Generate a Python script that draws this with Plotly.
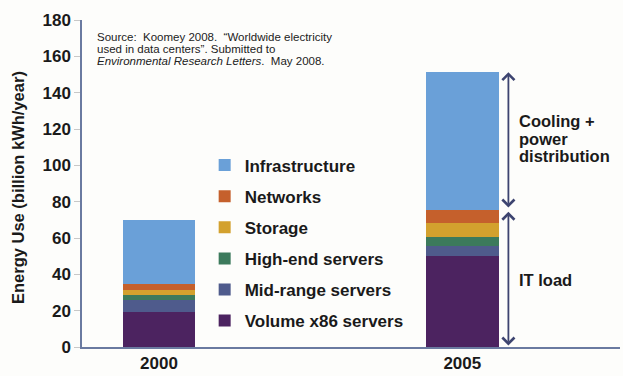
import plotly.graph_objects as go

years = ["2000", "2005"]
series_names = ["Volume x86 servers", "Mid-range servers", "High-end servers",
                "Storage", "Networks", "Infrastructure"]
volume = [19.3, 49.9]
midrange = [6.8, 5.7]
highend = [2.7, 4.9]
storage = [2.8, 8.0]
networks = [2.9, 6.7]
infrastructure = [35.2, 76.1]
colors = ["#4c2360", "#4f5b8c", "#3c7a5c", "#d3a12e", "#c5602c", "#6aa0d8"]
y_ticks = [0, 20, 40, 60, 80, 100, 120, 140, 160, 180]
source_lines = ["Source:  Koomey 2008.  \u201cWorldwide electricity",
                "used in data centers\u201d. Submitted to",
                "<i>Environmental Research Letters</i>.  May 2008."]
side_labels = ["Cooling +", "power", "distribution", "IT load"]

values = [volume, midrange, highend, storage, networks, infrastructure]
FONT = "Liberation Sans, Arial, sans-serif"

fig = go.Figure()
for i, (name, vals, col) in enumerate(zip(series_names, values, colors)):
    fig.add_trace(go.Bar(x=[0, 1], y=vals, name=name, marker_color=col,
                         marker_line_width=0, width=0.24, legendgroup=name,
                         legendrank=len(series_names) - i))

it_load = sum(v[1] for v in values[:5])
total = it_load + infrastructure[1]
ax_x = 1.152

fig.update_layout(
    barmode="stack",
    width=623, height=376,
    margin=dict(l=82, r=3, t=20, b=29),
    paper_bgcolor="#fdfdfb", plot_bgcolor="#fdfdfb",
    font=dict(family=FONT, color="#1a1a1a"),
    showlegend=True,
    legend=dict(x=0.228, y=0.610, xanchor="left", yanchor="top",
                traceorder="grouped", tracegroupgap=6,
                font=dict(size=17, family=FONT, color="#1a1a1a", weight="bold"),
                bgcolor="rgba(0,0,0,0)", itemclick=False),
    xaxis=dict(range=[-0.254, 1.52], tickmode="array", tickvals=[0, 1], ticktext=years,
               showgrid=False, zeroline=False, showline=True, linecolor="#6a7aa0", linewidth=1.5,
               ticks="", tickfont=dict(size=17, family=FONT, color="#1a1a1a", weight="bold")),
    yaxis=dict(range=[0, 180], tickmode="array", tickvals=y_ticks, showgrid=False, zeroline=False,
               showline=True, linecolor="#6a7aa0", linewidth=1.5,
               ticks="outside", ticklen=6, tickcolor="#c8c8c8",
               tickfont=dict(size=17, family=FONT, color="#1a1a1a", weight="bold")),
)

ann = []
ann.append(dict(xref="paper", yref="paper", x=(18 - 82) / 538, y=(347 - 188) / 327,
                text="Energy Use (billion kWh/year)", textangle=-90, showarrow=False,
                xanchor="center", yanchor="middle",
                font=dict(size=16.5, family=FONT, color="#1a1a1a", weight="bold")))
for line, ypx in zip(source_lines, [37, 48.8, 60.6]):
    ann.append(dict(xref="paper", yref="paper", x=(95 - 82) / 538, y=(347 - ypx) / 327,
                    xanchor="left", yanchor="middle", align="left", showarrow=False,
                    text=line, font=dict(size=11.5, family=FONT, color="#222222")))
for txt, ypx in zip(side_labels, [121.5, 138.5, 155.5, 280]):
    ann.append(dict(xref="paper", yref="paper", x=(517 - 82) / 538, y=(347 - ypx) / 327,
                    xanchor="left", yanchor="middle", showarrow=False, text=txt,
                    font=dict(size=16.5, family=FONT, color="#1a1a1a", weight="bold")))
# double-headed arrows
for y0, y1 in [(it_load + 0.8, total), (0, it_load - 0.8)]:
    ann.append(dict(xref="x", yref="y", axref="x", ayref="y", x=ax_x, y=y1, ax=ax_x, ay=y0,
                    text="", showarrow=True, arrowhead=4, startarrowhead=4, arrowside="end+start",
                    arrowsize=1.3, startarrowsize=1.3, arrowwidth=1.8, arrowcolor="#3d4470",
                    standoff=0, startstandoff=0))
fig.update_layout(annotations=ann)

fig.write_html("out.html", config={"displayModeBar": False},
               post_script="document.body.style.margin='0px';")
